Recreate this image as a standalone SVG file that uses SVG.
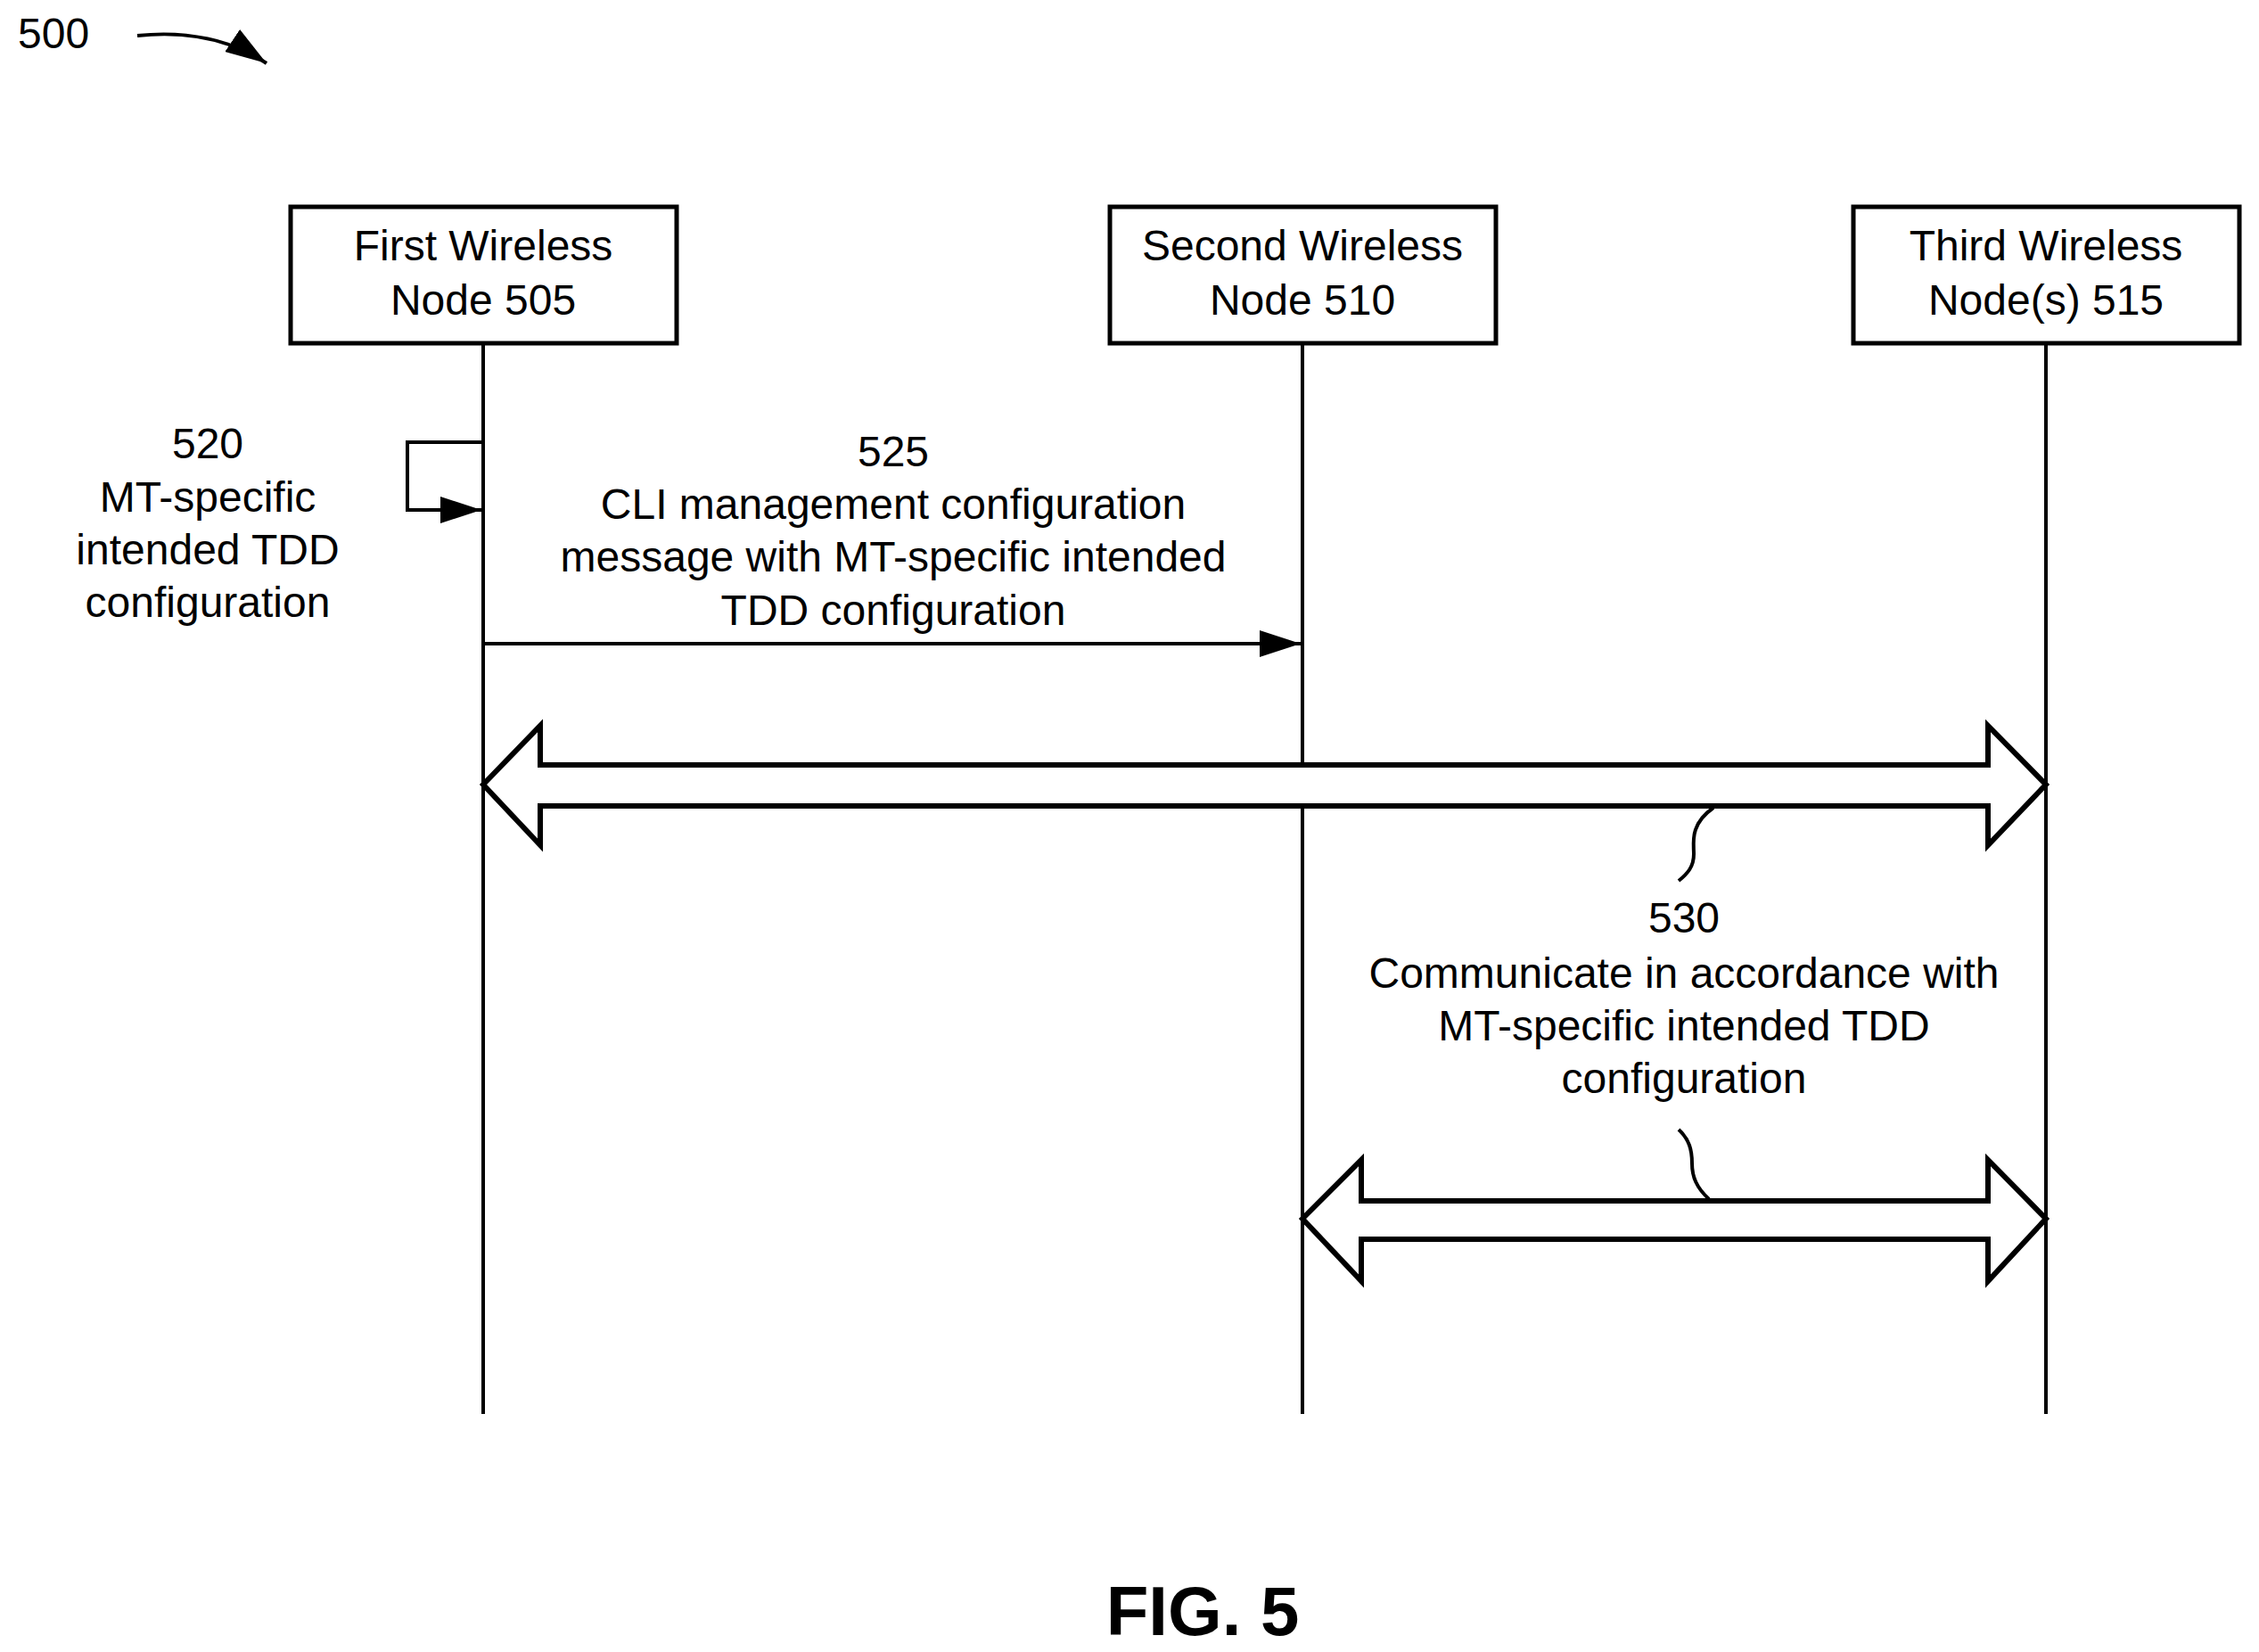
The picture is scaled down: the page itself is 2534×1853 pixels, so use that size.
<svg xmlns="http://www.w3.org/2000/svg" width="2534" height="1853" viewBox="0 0 2534 1853">
<style>
text{font-family:"Liberation Sans",Arial,sans-serif;font-size:48px;fill:#000}
.c{text-anchor:middle}
.box{fill:#fff;stroke:#000;stroke-width:5}
.ln{fill:none;stroke:#000;stroke-width:4}
.big{fill:#fff;stroke:#000;stroke-width:6;stroke-linejoin:miter}
</style>
<defs>
<marker id="ah" markerWidth="46" markerHeight="30" refX="46" refY="15" markerUnits="userSpaceOnUse" orient="auto"><path d="M0,0 L46,15 L0,30 Z" fill="#000"/></marker>
</defs>
<text x="20" y="54">500</text>
<path class="ln" d="M154,40 C210,34 260,45 299,71" marker-end="url(#ah)"/>
<g id="connectors">
<line class="ln" x1="542" y1="385" x2="542" y2="1586"/>
<line class="ln" x1="1461" y1="385" x2="1461" y2="1586"/>
<line class="ln" x1="2295" y1="385" x2="2295" y2="1586"/>
<path class="ln" d="M542,496 H457 V572 H540" marker-end="url(#ah)"/>
<line class="ln" x1="542" y1="722" x2="1459" y2="722" marker-end="url(#ah)"/>
<path class="big" d="M542,880 L606,814 V858 H2230 V814 L2295,880 L2230,948 V904 H606 V948 Z"/>
<path class="big" d="M1461,1367 L1527,1301 V1347 H2230 V1301 L2295,1367 L2230,1437 V1390 H1527 V1437 Z"/>
<path class="ln" d="M1922,906 C1895,925 1900,945 1900,958 C1900,972 1893,980 1883,988"/>
<path class="ln" d="M1883,1267 C1895,1278 1898,1290 1898,1305 C1898,1320 1903,1332 1917,1345"/>
</g>
<g id="node505"><rect class="box" x="326" y="232" width="433" height="153"/><text class="c" x="542" y="292">First Wireless</text><text class="c" x="542" y="353">Node 505</text></g>
<g id="node510"><rect class="box" x="1245" y="232" width="433" height="153"/><text class="c" x="1461" y="292">Second Wireless</text><text class="c" x="1461" y="353">Node 510</text></g>
<g id="node515"><rect class="box" x="2079" y="232" width="433" height="153"/><text class="c" x="2295" y="292">Third Wireless</text><text class="c" x="2295" y="353">Node(s) 515</text></g>
<g id="label520"><text class="c" x="233" y="514">520</text><text class="c" x="233" y="574">MT-specific</text><text class="c" x="233" y="633">intended TDD</text><text class="c" x="233" y="692">configuration</text></g>
<g id="label525"><text class="c" x="1002" y="523">525</text><text class="c" x="1002" y="582">CLI management configuration</text><text class="c" x="1002" y="641">message with MT-specific intended</text><text class="c" x="1002" y="701">TDD configuration</text></g>
<g id="label530"><text class="c" x="1889" y="1046">530</text><text class="c" x="1889" y="1108">Communicate in accordance with</text><text class="c" x="1889" y="1167">MT-specific intended TDD</text><text class="c" x="1889" y="1226">configuration</text></g>
<text class="c" x="1349" y="1834" style="font-size:78px;font-weight:bold">FIG. 5</text>
</svg>
